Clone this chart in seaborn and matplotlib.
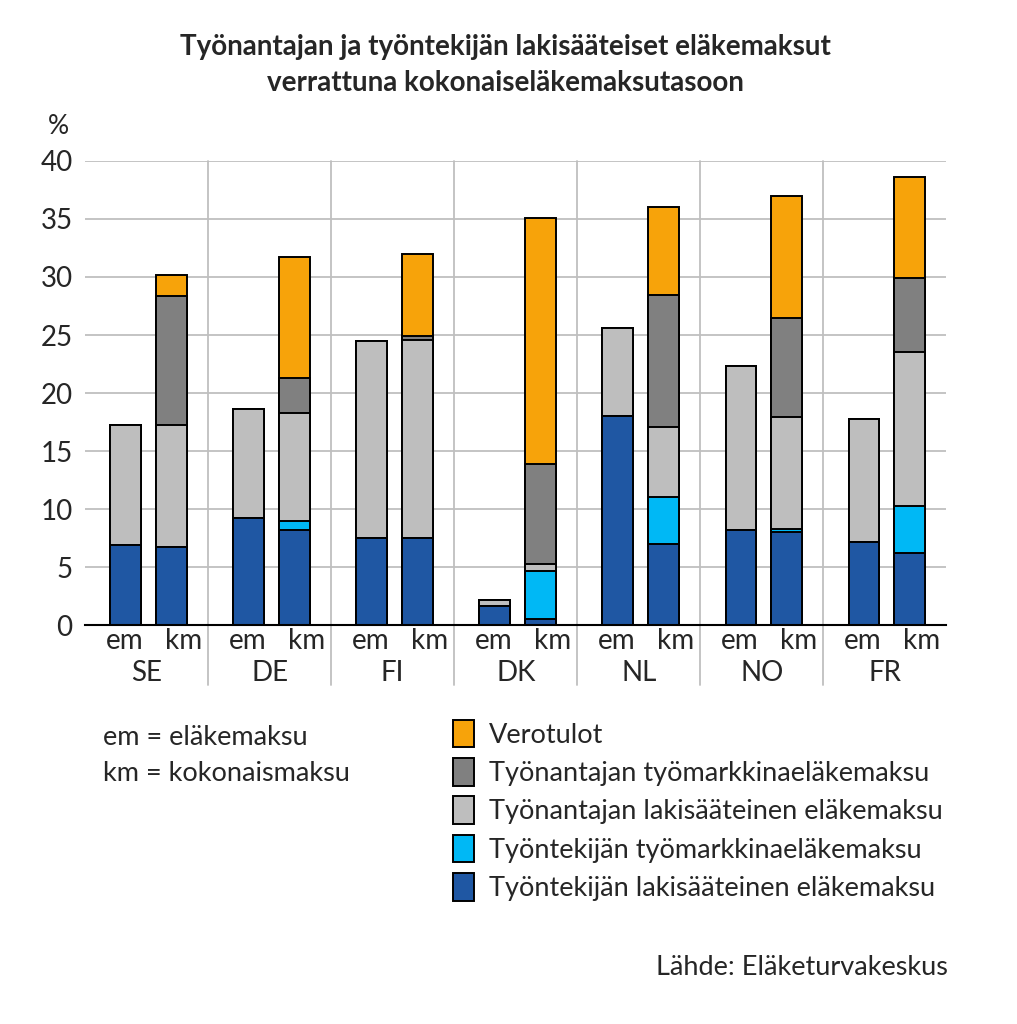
import pandas as pd
import seaborn as sns
import matplotlib.pyplot as plt
from matplotlib.patches import Patch

countries = ["SE", "DE", "FI", "DK", "NL", "NO", "FR"]
bar_types = ["em", "km"]

series_names = [
    "Työntekijän lakisääteinen eläkemaksu",
    "Työntekijän työmarkkinaeläkemaksu",
    "Työnantajan lakisääteinen eläkemaksu",
    "Työnantajan työmarkkinaeläkemaksu",
    "Verotulot",
]
colors = ["#1F57A3", "#00B8F5", "#BEBEBE", "#808080", "#F7A30A"]

# em = eläkemaksu, segments from bottom up
em_tt_laki = [6.9, 9.2, 7.5, 1.6, 18.0, 8.2, 7.2]
em_tt_tyom = [0, 0, 0, 0, 0, 0, 0]
em_ta_laki = [10.3, 9.4, 17.0, 0.6, 7.6, 14.1, 10.6]
em_ta_tyom = [0, 0, 0, 0, 0, 0, 0]
em_vero = [0, 0, 0, 0, 0, 0, 0]

# km = kokonaismaksu
km_tt_laki = [6.7, 8.2, 7.5, 0.55, 7.0, 8.0, 6.25]
km_tt_tyom = [0, 0.8, 0, 4.1, 4.0, 0.3, 4.0]
km_ta_laki = [10.5, 9.3, 17.1, 0.6, 6.1, 9.6, 13.3]
km_ta_tyom = [11.2, 3.0, 0.3, 8.6, 11.35, 8.6, 6.35]
km_vero = [1.8, 10.4, 7.1, 21.2, 7.6, 10.5, 8.7]

em_layers = [em_tt_laki, em_tt_tyom, em_ta_laki, em_ta_tyom, em_vero]
km_layers = [km_tt_laki, km_tt_tyom, km_ta_laki, km_ta_tyom, km_vero]

# long table with bar positions and cumulative heights
rows = []
for i, c in enumerate(countries):
    for t, layers, off in [("em", em_layers, 0.33), ("km", km_layers, 0.70)]:
        cum = 0
        for k, name in enumerate(series_names):
            cum += layers[k][i]
            rows.append({"country": c, "type": t, "pos": i + off,
                         "series": name, "layer": k, "cum": cum})
df = pd.DataFrame(rows)

sns.set_style("white")
plt.rcParams['font.family'] = ['Lato', 'DejaVu Sans']

fig = plt.figure(figsize=(10.17, 10.24), dpi=100)
ax = fig.add_axes([0.0836, 0.3896, 0.847, 0.4532])

bar_w = 0.25 / 0.37
for k in reversed(range(5)):
    sub = df[df["layer"] == k]
    sns.barplot(data=sub, x="pos", y="cum", native_scale=True, width=bar_w,
                color=colors[k], saturation=1, errorbar=None,
                edgecolor="black", linewidth=1.4, ax=ax)

ax.set_xlim(0, 7)
ax.set_ylim(0, 40)
ax.set_yticks(range(0, 41, 5))
ax.set_axisbelow(True)
ax.yaxis.grid(True, color="#BFBFBF", linewidth=1.3)
ax.tick_params(axis="y", labelsize=20, length=0, pad=9)
ax.set_xticks([i + off for i in range(7) for off in (0.32, 0.80)])
ax.set_xticklabels(bar_types * 7, fontsize=20)
ax.tick_params(axis="x", length=0, pad=2)
ax.set_xlabel("")
ax.set_ylabel("")
for s in ["left", "right", "top"]:
    ax.spines[s].set_visible(False)
ax.spines["bottom"].set_color("black")
ax.spines["bottom"].set_linewidth(1.5)

# group separators reaching below the axis
for b in range(1, 7):
    ax.axvline(b, ymin=-0.13, ymax=1, color="#BFBFBF", linewidth=1.3,
               clip_on=False, zorder=0)

for i, c in enumerate(countries):
    ax.text(i + 0.5, -0.104, c, transform=ax.get_xaxis_transform(),
            ha="center", va="center", fontsize=20)

fig.text(0.497, 0.954, "Työnantajan ja työntekijän lakisääteiset eläkemaksut",
         ha="center", va="center", fontsize=20, fontweight="bold")
fig.text(0.497, 0.919, "verrattuna kokonaiseläkemaksutasoon",
         ha="center", va="center", fontsize=20, fontweight="bold")
fig.text(0.057, 0.876, "%", ha="center", va="center", fontsize=19)

fig.text(0.101, 0.280, "em = eläkemaksu", ha="left", va="center", fontsize=19.5)
fig.text(0.101, 0.245, "km = kokonaismaksu", ha="left", va="center", fontsize=19.5)

handles = [Patch(facecolor=colors[k], edgecolor="black", linewidth=1.4,
                 label=series_names[k]) for k in reversed(range(5))]
fig.legend(handles=handles, loc="upper left", bbox_to_anchor=(0.421, 0.321),
           frameon=False, fontsize=19.5, handlelength=0.8, handleheight=1.2,
           handletextpad=0.55, labelspacing=0.38)

fig.text(0.932, 0.055, "Lähde: Eläketurvakeskus", ha="right", va="center",
         fontsize=19.5)

fig.savefig("out.png", dpi=100)
